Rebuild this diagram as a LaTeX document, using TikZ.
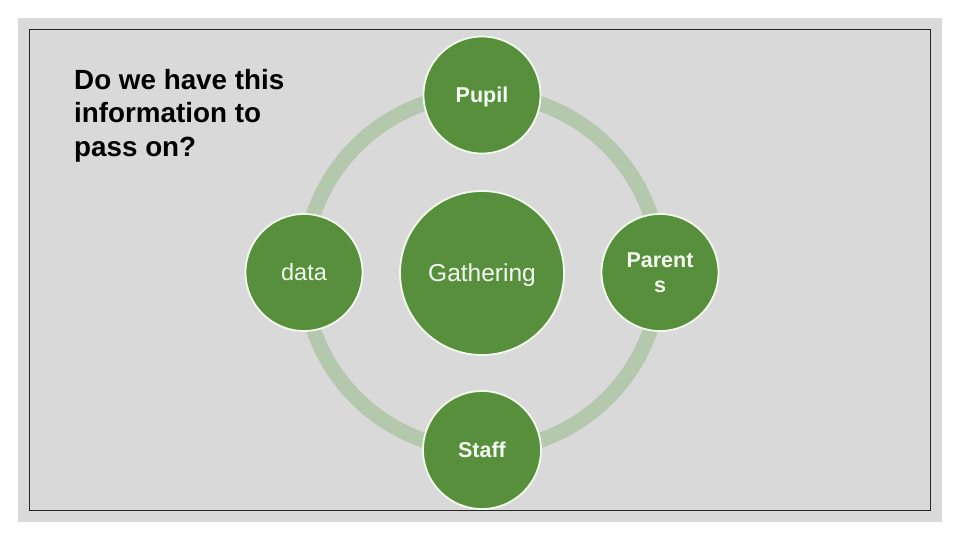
\documentclass[tikz,border=0pt]{standalone}
\usepackage{fontspec}
\setmainfont{Liberation Sans}
\definecolor{slidebg}{HTML}{D9D9D9}
\definecolor{ringcol}{HTML}{B4C8AD}
\definecolor{nodefill}{HTML}{578F3D}
\definecolor{nodeline}{HTML}{F2FAEC}
\definecolor{nodetext}{HTML}{F4FBF0}
\tikzset{
  bubble/.style={circle, fill=nodefill, draw=nodeline, line width=1.8pt, inner sep=0pt,
    text=nodetext, align=center},
  titletext/.style={anchor=north west, inner sep=0pt, align=left, font=\fontsize{27.8}{33.5}\selectfont\bfseries},
}
\begin{document}
\begin{tikzpicture}[x=1pt,y=-1pt]
\useasboundingbox (0,0) rectangle (960,540);
\fill[white] (0,0) rectangle (960,540);
\fill[slidebg] (18,18) rectangle (942,522);
\draw[black!85, line width=1pt] (29.5,29.5) rectangle (930,510);
\coordinate (ringc) at (482,272);
\draw[ringcol, line width=15pt] (ringc) circle[radius=178];
\node[bubble, minimum size=164pt, text depth=0pt, font=\fontsize{24.5}{28}\selectfont] (gather) at (482,273) {Gathering};
\node[bubble, minimum size=117pt, text depth=0pt, font=\fontsize{21.5}{25}\selectfont\bfseries] (pupil) at (482,95) {Pupil};
\node[bubble, minimum size=117pt, font=\fontsize{23.5}{27}\selectfont] (data) at (304,272.5) {data};
\node[bubble, minimum size=117pt, font=\fontsize{21.5}{25}\selectfont\bfseries] (parents) at (660,272.5) {Parent\\s};
\node[bubble, minimum size=118pt, font=\fontsize{21.5}{25}\selectfont\bfseries] (staff) at (482,450) {Staff};
\node[titletext] (title) at (74,69) {Do we have this\\information to\\pass on?};
\end{tikzpicture}
\end{document}
